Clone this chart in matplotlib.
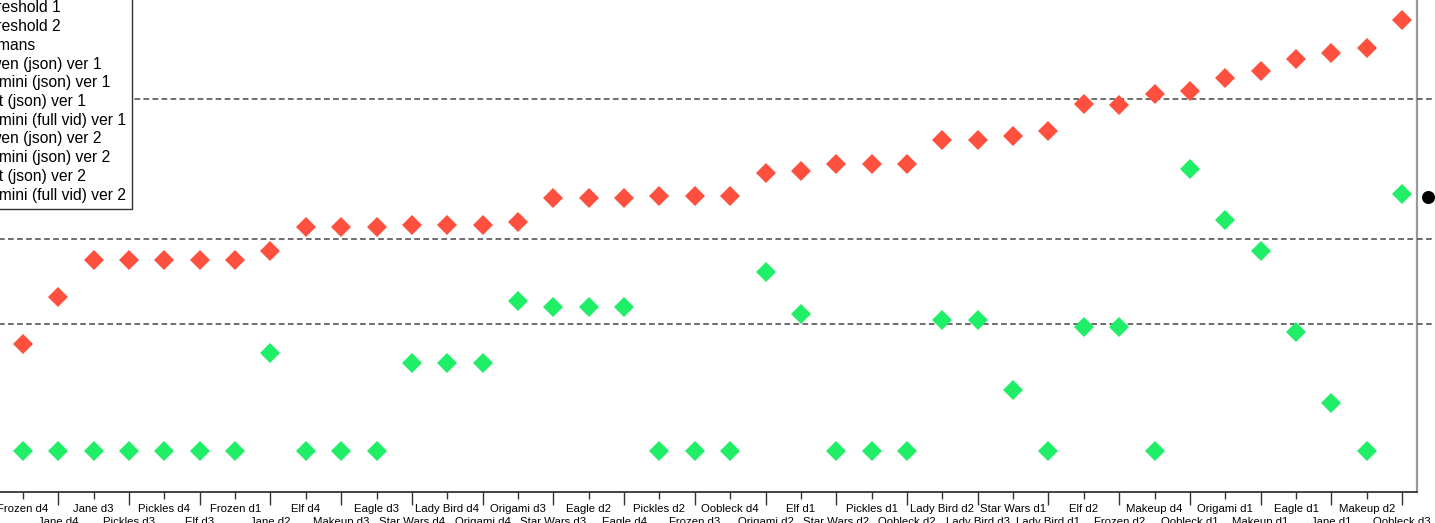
import matplotlib
matplotlib.use("Agg")
import matplotlib.pyplot as plt
from matplotlib.lines import Line2D

plt.rcParams['font.family'] = ['Liberation Sans', 'DejaVu Sans']
plt.rcParams['lines.scale_dashes'] = False

# videos, in the order shown on the x axis
videos = ["Frozen d4", "Jane d4", "Jane d3", "Pickles d3", "Pickles d4",
          "Elf d3", "Frozen d1", "Jane d2", "Elf d4", "Makeup d3",
          "Eagle d3", "Star Wars d4", "Lady Bird d4", "Origami d4", "Origami d3",
          "Star Wars d3", "Eagle d2", "Eagle d4", "Pickles d2", "Frozen d3",
          "Oobleck d4", "Origami d2", "Elf d1", "Star Wars d2", "Pickles d1",
          "Oobleck d2", "Lady Bird d2", "Lady Bird d3", "Star Wars d1", "Lady Bird d1",
          "Elf d2", "Frozen d2", "Makeup d4", "Oobleck d1", "Origami d1",
          "Makeup d1", "Eagle d1", "Jane d1", "Makeup d2", "Oobleck d3"]

# red diamonds
scores_red = [0.253, 0.364, 0.451, 0.451, 0.451,
              0.451, 0.451, 0.472, 0.528, 0.528,
              0.528, 0.534, 0.534, 0.534, 0.540,
              0.597, 0.597, 0.597, 0.602, 0.602,
              0.602, 0.656, 0.661, 0.676, 0.676,
              0.676, 0.733, 0.733, 0.743, 0.754,
              0.817, 0.816, 0.841, 0.848, 0.878,
              0.895, 0.924, 0.938, 0.949, 1.015]

# green diamonds
scores_green = [0.0, 0.0, 0.0, 0.0, 0.0,
                0.0, 0.0, 0.232, 0.0, 0.0,
                0.0, 0.208, 0.208, 0.208, 0.355,
                0.339, 0.339, 0.339, 0.0, 0.0,
                0.0, 0.423, 0.324, 0.0, 0.0,
                0.0, 0.309, 0.309, 0.145, 0.0,
                0.293, 0.294, 0.0, 0.665, 0.544,
                0.472, 0.280, 0.113, 0.0, 0.605]

humans = [0.600]
thresholds = [0.3, 0.5, 0.83]

legend_labels = ["Threshold 1", "Threshold 2", "Humans",
                 "Qwen (json) ver 1", "Gemini (json) ver 1", "Gpt (json) ver 1",
                 "Gemini (full vid) ver 1", "Qwen (json) ver 2", "Gemini (json) ver 2",
                 "Gpt (json) ver 2", "Gemini (full vid) ver 2"]
model_colors = ["#1fee66", "#3b6fd8", "#f2a33a", "#9b59b6",
                "#17becf", "#8c564b", "#e377c2", "#ff4f3e"]

RED = "#ff4f3e"
GREEN = "#1fee66"
W, H = 1435, 523

def fx(px):
    return px / W

def fy(py):
    return 1 - py / H

fig = plt.figure(figsize=(W / 100, H / 100), dpi=100)

ylim = (-0.0946, 1.0859)
bottom_px, top_px = 491.7, -10
right_px, left_px = 1417.3, -12.4

# main panel
ax = fig.add_axes([fx(left_px), fy(bottom_px), (right_px - left_px) / W, (bottom_px - top_px) / H])
x = list(range(len(videos)))
for t in thresholds:
    ax.axhline(t, color='#555555', lw=1.2, ls=(0, (4.1, 2.4)), zorder=1)
ax.plot(x, scores_red, 'D', color=RED, markersize=10, mew=0, zorder=3)
ax.plot(x, scores_green, 'D', color=GREEN, markersize=10, mew=0, zorder=3)
ax.set_xlim(-1.0, 39.43)
ax.set_ylim(*ylim)
ax.set_yticks([])

# staggered labels: short ticks for the top row, long ticks for the bottom row
ax.set_xticks(x[0::2], videos[0::2])
ax.set_xticks(x[1::2], videos[1::2], minor=True)
ax.tick_params(axis='x', which='major', length=4.7, width=1.0, pad=3.8,
               labelsize=8.2, color='#333333')
ax.tick_params(axis='x', which='minor', length=9.6, width=1.0, pad=8.6,
               labelsize=8.2, color='#333333')
ax.spines['top'].set_visible(False)
ax.spines['left'].set_visible(False)
ax.spines['bottom'].set_color('#333333')
ax.spines['bottom'].set_linewidth(1.3)
ax.spines['right'].set_color('#999999')
ax.spines['right'].set_linewidth(1.6)

# humans panel
ax2 = fig.add_axes([fx(right_px), fy(bottom_px), 20.8 / W, (bottom_px - top_px) / H])
for t in thresholds:
    ax2.axhline(t, color='#555555', lw=1.2, ls=(0, (4.1, 2.4)), zorder=1)
ax2.plot([0] * len(humans), humans, 'o', color='black', markersize=9.4, mew=0)
ax2.set_xlim(-0.5, 0.5)
ax2.set_ylim(*ylim)
ax2.axis('off')

# legend
handles = [Line2D([], [], color='#555555', ls='--'),
           Line2D([], [], color='#555555', ls='--'),
           Line2D([], [], color='black', marker='o', ls='none')]
for c in model_colors:
    handles.append(Line2D([], [], color=c, marker='D', ls='none'))
leg = fig.legend(handles, legend_labels, loc='lower right',
                 bbox_to_anchor=(fx(132), fy(209)), borderaxespad=0,
                 fontsize=11.25, labelspacing=0.24, fancybox=False,
                 edgecolor='#333333', framealpha=1, borderpad=0.4)
leg.get_frame().set_linewidth(1.0)

fig.savefig('out.png', dpi=100)
